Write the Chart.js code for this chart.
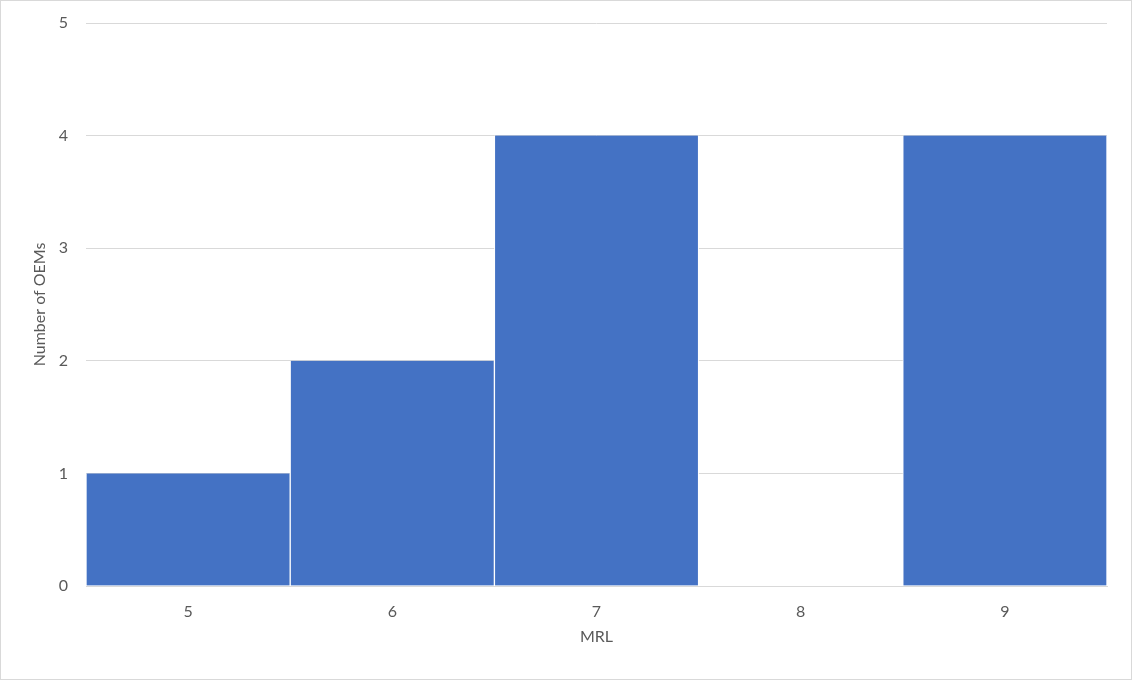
<!DOCTYPE html>
<html>
<head>
<meta charset="utf-8">
<script src="https://cdn.jsdelivr.net/npm/chart.js@4"></script>
<style>
  body { margin: 0; background: #fff; }
  #wrap { position: relative; width: 1132px; height: 680px; }
  #frame { position: absolute; left: 0; top: 0; width: 1130px; height: 678px; border: 1px solid #d9d9d9; pointer-events: none; }
</style>
</head>
<body>
<div id="wrap">
  <canvas id="grafica" width="1132" height="680"></canvas>
  <div id="frame"></div>
</div>
<script>
// niveles MRL y numero de OEMs en cada uno
var nivelesMRL = ['5', '6', '7', '8', '9'];
var numeroOEMs = [1, 2, 4, 0, 4];
var ejeYMax = 5;

var fuente = { family: 'Lato, "Open Sans", sans-serif', size: 16 };
var colorTexto = '#595959';

new Chart(document.getElementById('grafica'), {
    type: 'bar',
    data: {
        labels: nivelesMRL,
        datasets: [{
            data: numeroOEMs,
            backgroundColor: '#4472C4',
            borderColor: '#ffffff',
            borderWidth: { left: 1, right: 1, top: 0, bottom: 0 },
            borderSkipped: false,
            barPercentage: 1,
            categoryPercentage: 1
        }]
    },
    options: {
        responsive: false,
        animation: false,
        layout: { padding: { top: 23, right: 25, left: 0, bottom: 0 } },
        plugins: {
            legend: { display: false },
            tooltip: { enabled: false }
        },
        scales: {
            x: {
                grid: { display: false },
                border: { display: true, color: '#d9d9d9' },
                ticks: { color: colorTexto, font: fuente, padding: 8 },
                title: { display: true, text: 'MRL', color: colorTexto, font: fuente, padding: { top: 0, bottom: 34 } },
                afterFit: function (escala) { escala.height = 94; escala.paddingLeft = 0; escala.paddingRight = 0; }
            },
            y: {
                min: 0,
                max: ejeYMax,
                grid: { color: '#d9d9d9', drawTicks: false },
                border: { display: false },
                ticks: { stepSize: 1, color: colorTexto, font: fuente, padding: 18 },
                title: { display: true, text: 'Number of OEMs', color: colorTexto, font: fuente, padding: { top: 30, bottom: 0 } },
                afterFit: function (escala) { escala.width = 86; escala.paddingTop = 0; escala.paddingBottom = 0; }
            }
        }
    }
});
</script>
</body>
</html>
